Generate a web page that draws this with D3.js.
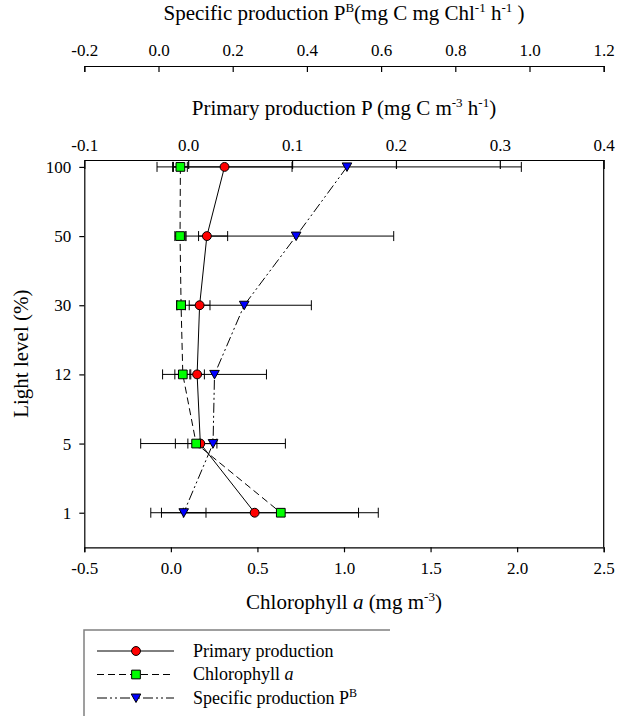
<!DOCTYPE html>
<html>
<head>
<meta charset="utf-8">
<script src="https://cdn.jsdelivr.net/npm/d3@7"></script>
<style>
  body { margin: 0; background: #fff; }
  svg text { font-family: "Liberation Serif", "Times New Roman", serif; fill: #000; }
</style>
</head>
<body>
<svg id="chart"></svg>
<script>
// Light levels (categories, top to bottom)
const levels = ["100", "50", "30", "12", "5", "1"];

// Primary production P (mg C m-3 h-1), on the middle top axis
const primary = [0.035, 0.018, 0.011, 0.0086, 0.0117, 0.064];
const primary_err = [0.065, 0.020, 0.010, 0.007, 0.012, 0.100];

// Chlorophyll a (mg m-3), on the bottom axis
const chl = [0.055, 0.053, 0.059, 0.069, 0.146, 0.635];
const chl_err = [0.04, 0.03, 0.025, 0.046, 0.12, 0.563];

// Specific production PB, on the upper top axis
const specific = [0.508, 0.371, 0.231, 0.151, 0.147, 0.068];
const specific_err = [0.47, 0.263, 0.181, 0.14, 0.195, 0.06];

// Tick values of the three x axes
const chl_ticks = [-0.5, 0.0, 0.5, 1.0, 1.5, 2.0, 2.5];
const primary_ticks = [-0.1, 0.0, 0.1, 0.2, 0.3, 0.4];
const specific_ticks = [-0.2, 0.0, 0.2, 0.4, 0.6, 0.8, 1.0, 1.2];

// Chart dimensions
const width = 617, height = 716;
const plot = { left: 84.3, right: 603.7, top: 160, bottom: 547.3 };
const serif = "Liberation Serif, Times New Roman, serif";

const svg = d3.select("#chart")
    .attr("width", width)
    .attr("height", height)
    .attr("font-family", serif);

// Scales
const x_chl = d3.scaleLinear().domain([-0.5, 2.5]).range([plot.left, plot.right]);
const x_p = d3.scaleLinear().domain([-0.1, 0.4]).range([plot.left, plot.right]);
const x_pb = d3.scaleLinear().domain([-0.2, 1.2]).range([plot.left, plot.right]);
const y = d3.scaleLinear().domain([-0.1, 5.5]).range([plot.top, plot.bottom]);

// Plain hyphen minus, one decimal, as in the original figure
const fmt1 = d => d.toFixed(1);

// Plot frame right side
svg.append("line")
    .attr("x1", plot.right).attr("x2", plot.right)
    .attr("y1", plot.top).attr("y2", plot.bottom)
    .attr("stroke", "#000").attr("stroke-width", 1.2);

// Bottom axis (chlorophyll)
const bottom_axis = svg.append("g")
    .attr("transform", `translate(0, ${plot.bottom})`)
    .call(d3.axisBottom(x_chl).tickValues(chl_ticks).tickFormat(fmt1).tickSize(5).tickSizeOuter(5).tickPadding(10));

// Middle top axis (primary production), ticks pointing inward
const p_axis = svg.append("g")
    .attr("transform", `translate(0, ${plot.top})`)
    .call(d3.axisTop(x_p).tickValues(primary_ticks).tickFormat(fmt1).tickSize(-9).tickSizeOuter(0).tickPadding(9));

// Upper top axis (specific production)
const pb_axis = svg.append("g")
    .attr("transform", "translate(0, 66)")
    .call(d3.axisTop(x_pb).tickValues(specific_ticks).tickFormat(fmt1).tickSize(-6).tickSizeOuter(-6).tickPadding(10));

// Left axis (light level)
const y_axis = svg.append("g")
    .attr("transform", `translate(${plot.left}, 0)`)
    .call(d3.axisLeft(y).tickValues(d3.range(levels.length)).tickFormat(i => levels[i]).tickSize(5).tickSizeOuter(0).tickPadding(8));

[bottom_axis, p_axis, pb_axis, y_axis].forEach(g => {
    g.attr("font-family", serif).attr("font-size", 17);
    g.selectAll("path, line").attr("stroke", "#000").attr("stroke-width", 1.2);
    g.selectAll("text").attr("font-family", serif).style("font-size", "17px");
});

// Axis titles
const title_x = (plot.left + plot.right) / 2;
const sup_dy = -8;

function add_sup(text_sel, s) {
    text_sel.append("tspan").attr("dy", sup_dy).style("font-size", "13px").text(s);
}
function add_base(text_sel, s) {
    text_sel.append("tspan").attr("dy", -sup_dy).text(s);
}

const pb_title = svg.append("text")
    .attr("x", title_x).attr("y", 20)
    .attr("text-anchor", "middle")
    .style("font-size", "21px");
pb_title.append("tspan").text("Specific production P");
add_sup(pb_title, "B");
add_base(pb_title, "(mg C mg Chl");
add_sup(pb_title, "-1");
add_base(pb_title, " h");
add_sup(pb_title, "-1");
add_base(pb_title, " )");

const p_title = svg.append("text")
    .attr("x", title_x).attr("y", 115)
    .attr("text-anchor", "middle")
    .style("font-size", "21px");
p_title.append("tspan").text("Primary production P (mg C m");
add_sup(p_title, "-3");
add_base(p_title, " h");
add_sup(p_title, "-1");
add_base(p_title, ")");

const chl_title = svg.append("text")
    .attr("x", title_x).attr("y", 609)
    .attr("text-anchor", "middle")
    .style("font-size", "21px");
chl_title.append("tspan").text("Chlorophyll ");
chl_title.append("tspan").style("font-style", "italic").text("a");
chl_title.append("tspan").text(" (mg m");
add_sup(chl_title, "-3");
add_base(chl_title, ")");

svg.append("text")
    .attr("transform", `translate(28, ${(plot.top + plot.bottom) / 2}) rotate(-90)`)
    .attr("text-anchor", "middle")
    .style("font-size", "21px")
    .text("Light level (%)");

// Series definitions
const series = [
    { name: "primary", values: primary, errors: primary_err, x: x_p, color: "#ff0000", symbol: "circle", dash: null },
    { name: "chl", values: chl, errors: chl_err, x: x_chl, color: "#00ff00", symbol: "square", dash: "7,4" },
    { name: "specific", values: specific, errors: specific_err, x: x_pb, color: "#0000ff", symbol: "triangle", dash: "10,3,2,3,2,3" }
];

function symbol_path(s) {
    if (s.symbol === "triangle") return "M-4.8,-4 L4.8,-4 L0,4.5 Z";
    if (s.symbol === "square") return d3.symbol(d3.symbolSquare, 76)();
    return d3.symbol(d3.symbolCircle, 62)();
}

// Error bars
series.forEach(s => {
    const g = svg.append("g").attr("class", "err-" + s.name);
    s.values.forEach((v, i) => {
        const lo = s.x(v - s.errors[i]), hi = s.x(v + s.errors[i]), yy = y(i);
        g.append("line").attr("x1", lo).attr("x2", hi).attr("y1", yy).attr("y2", yy)
            .attr("stroke", "#000").attr("stroke-width", 1);
        [lo, hi].forEach(cx => {
            g.append("line").attr("x1", cx).attr("x2", cx).attr("y1", yy - 5).attr("y2", yy + 5)
                .attr("stroke", "#000").attr("stroke-width", 1);
        });
    });
});

// Connecting lines
series.forEach(s => {
    const line = d3.line().x(d => s.x(d)).y((d, i) => y(i));
    svg.append("path")
        .attr("d", line(s.values))
        .attr("fill", "none")
        .attr("stroke", "#000")
        .attr("stroke-width", 1)
        .attr("stroke-dasharray", s.dash);
});

// Markers
series.forEach(s => {
    svg.append("g").selectAll("path")
        .data(s.values)
        .enter()
        .append("path")
        .attr("d", symbol_path(s))
        .attr("transform", (d, i) => `translate(${s.x(d)}, ${y(i)})`)
        .attr("fill", s.color)
        .attr("stroke", "#000")
        .attr("stroke-width", 1);
});

// Legend
const legend_names = ["Primary production", "Chlorophyll", "Specific production P"];
const legend = svg.append("g");
legend.append("path")
    .attr("d", `M84,${height} L84,630 L390,630`)
    .attr("fill", "none")
    .attr("stroke", "#808080")
    .attr("stroke-width", 1.5);

series.forEach((s, i) => {
    const ly = 651 + i * 23.5;
    legend.append("line")
        .attr("x1", 97).attr("x2", 174).attr("y1", ly).attr("y2", ly)
        .attr("stroke", "#000").attr("stroke-width", 1)
        .attr("stroke-dasharray", s.dash);
    legend.append("path")
        .attr("d", symbol_path(s))
        .attr("transform", `translate(136, ${ly})`)
        .attr("fill", s.color).attr("stroke", "#000").attr("stroke-width", 1);
    const t = legend.append("text")
        .attr("x", 193).attr("y", ly + 5.5)
        .style("font-size", "18px")
        .text(legend_names[i]);
    if (i === 1) t.append("tspan").style("font-style", "italic").text(" a");
    if (i === 2) t.append("tspan").attr("dy", -7).style("font-size", "12px").text("B");
});
</script>
</body>
</html>
